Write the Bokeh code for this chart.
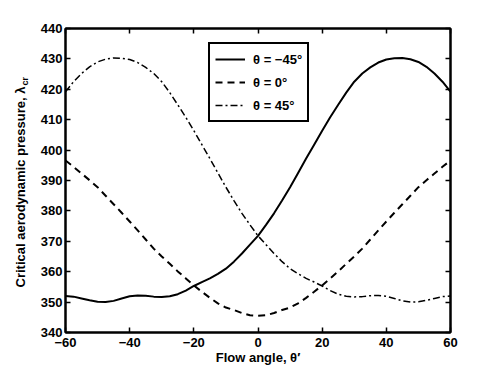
import math
from bokeh.plotting import figure
from bokeh.layouts import row
from bokeh.models import Legend, LegendItem, LinearAxis, FixedTicker
from bokeh.core.properties import value
from bokeh.embed import file_html
from bokeh.resources import INLINE

# ---- data ----
flow_angle = [-60, -57.5, -55, -52.5, -50, -47.5, -45, -42.5, -40, -37.5, -35, -32.5, -30,
              -27.5, -25, -22.5, -20, -17.5, -15, -12.5, -10, -7.5, -5, -2.5, 0,
              2.5, 5, 7.5, 10, 12.5, 15, 17.5, 20, 22.5, 25, 27.5, 30,
              32.5, 35, 37.5, 40, 42.5, 45, 47.5, 50, 52.5, 55, 57.5, 60]

theta_m45 = [352.0, 351.8, 351.2, 350.6, 350.1, 350.0, 350.4, 351.2, 351.9, 352.2, 352.1, 351.8, 351.7,
             351.9, 352.6, 353.8, 355.3, 356.6, 357.8, 359.3, 361.0, 363.3, 366.0, 368.9, 371.8,
             375.4, 379.2, 383.4, 387.8, 392.5, 397.2, 401.8, 406.4, 410.8, 414.9, 418.9, 422.5,
             425.2, 427.2, 428.8, 429.8, 430.2, 430.3, 429.9, 429.0, 427.4, 425.2, 422.5, 419.2]

theta_0 = [396.6, 394.5, 392.3, 390.1, 387.8, 385.0, 382.2, 379.4, 376.5, 373.6, 370.6, 367.6, 365.0,
           362.6, 360.1, 357.8, 355.5, 353.4, 351.4, 349.6, 348.2, 347.4, 346.4, 345.7, 345.5,
           345.7, 346.4, 347.4, 348.2, 349.6, 351.4, 353.4, 355.5, 357.8, 360.1, 362.6, 365.0,
           367.6, 370.6, 373.6, 376.5, 379.4, 382.2, 385.0, 387.8, 390.1, 392.3, 394.5, 396.6]

theta_p45 = [419.2, 422.5, 425.2, 427.4, 429.0, 429.9, 430.3, 430.2, 429.8, 428.8, 427.2, 425.2, 422.5,
             418.9, 414.9, 410.8, 406.4, 401.8, 397.2, 392.5, 387.8, 383.4, 379.2, 375.4, 371.8,
             368.9, 366.0, 363.3, 361.0, 359.3, 357.8, 356.6, 355.3, 353.8, 352.6, 351.9, 351.7,
             351.8, 352.1, 352.2, 351.9, 351.2, 350.4, 350.0, 350.1, 350.6, 351.2, 351.8, 352.0]

series_labels = ["θ = −45°", "θ = 0°", "θ = 45°"]

x_ticks = [-60, -40, -20, 0, 20, 40, 60]
x_tick_labels = ["−60", "−40", "−20", "0", "20", "40", "60"]
y_ticks = [340, 350, 360, 370, 380, 390, 400, 410, 420, 430, 440]

x_label = "Flow angle, θ′"
y_label_main = "Critical aerodynamic pressure, λ"
y_label_sub = "cr"

FONT = "Liberation Sans"
TOTAL_H = 375
LABEL_W = 33
B_TOP, B_BOTTOM = 28, 43
FRAME_H = TOTAL_H - B_TOP - B_BOTTOM

# ---- main plot ----
p = figure(width=498 - LABEL_W, height=TOTAL_H, x_range=(-60, 60), y_range=(340, 440),
           output_backend="svg", toolbar_location=None,
           min_border_left=65 - LABEL_W, min_border_right=48,
           min_border_top=B_TOP, min_border_bottom=B_BOTTOM,
           background_fill_color="white", border_fill_color="white")
p.xgrid.visible = False
p.ygrid.visible = False
p.outline_line_color = "black"
p.outline_line_width = 2

bottom_axis = p.below[0]
left_axis = p.left[0]
top_axis = LinearAxis()
right_axis = LinearAxis()
p.add_layout(top_axis, "above")
p.add_layout(right_axis, "right")

for ax in [bottom_axis, top_axis]:
    ax.ticker = FixedTicker(ticks=x_ticks)
for ax in [left_axis, right_axis]:
    ax.ticker = FixedTicker(ticks=y_ticks)

for ax in [bottom_axis, left_axis, top_axis, right_axis]:
    ax.axis_line_color = "black"
    ax.axis_line_width = 2
    ax.major_tick_in = 5
    ax.major_tick_out = 0
    ax.major_tick_line_width = 1.5
    ax.major_tick_line_color = "black"
    ax.minor_tick_line_color = None
    ax.major_label_text_font = FONT
    ax.major_label_text_font_style = "bold"
    ax.major_label_text_font_size = "13px"
    ax.major_label_text_color = "black"

for ax in [top_axis, right_axis]:
    ax.major_label_text_color = None
    ax.major_label_standoff = 0

bottom_axis.major_label_overrides = {t: l for t, l in zip(x_ticks, x_tick_labels)}
bottom_axis.major_label_standoff = 5
left_axis.major_label_standoff = 3

bottom_axis.axis_label = x_label
bottom_axis.axis_label_text_font = FONT
bottom_axis.axis_label_text_font_style = "bold"
bottom_axis.axis_label_text_font_size = "13px"
bottom_axis.axis_label_standoff = 0
bottom_axis.axis_label_text_color = "black"

r1 = p.line(flow_angle, theta_m45, line_color="black", line_width=2)
r2 = p.line(flow_angle, theta_0, line_color="black", line_width=2, line_dash="7 5")
r3 = p.line(flow_angle, theta_p45, line_color="black", line_width=1.5, line_dash="7 3 2 3")

legend = Legend(items=[LegendItem(label=series_labels[0], renderers=[r1]),
                       LegendItem(label=series_labels[1], renderers=[r2]),
                       LegendItem(label=series_labels[2], renderers=[r3])],
                location=(143, 210), padding=5, spacing=3, margin=0,
                glyph_width=30, glyph_height=20, label_height=20, label_standoff=8,
                border_line_color="black", border_line_width=2, border_line_alpha=1,
                background_fill_color="white", background_fill_alpha=1,
                label_text_font=FONT, label_text_font_style="bold",
                label_text_font_size="13px", label_text_color="black")
p.add_layout(legend)

# ---- y-axis title panel (keeps the subscript as real text) ----
# its frame is aligned with the main frame, so y is in pixels above the frame bottom
lp = figure(width=LABEL_W, height=TOTAL_H, x_range=(0, LABEL_W), y_range=(0, FRAME_H),
            output_backend="svg", toolbar_location=None, title=None,
            x_axis_location=None, y_axis_location=None,
            min_border_left=0, min_border_right=0,
            min_border_top=B_TOP, min_border_bottom=B_BOTTOM,
            background_fill_color="white", border_fill_color="white", outline_line_color=None)
lp.grid.visible = False
lp.text(x=[20], y=[45], text=[y_label_main], angle=math.pi / 2,
        text_align="left", text_baseline="middle", text_font=value(FONT),
        text_font_style="bold", text_font_size="13px", text_color="black")
lp.text(x=[24], y=[247], text=[y_label_sub], angle=math.pi / 2,
        text_align="left", text_baseline="middle", text_font=value(FONT),
        text_font_style="bold", text_font_size="9px", text_color="black")

layout = row(lp, p, spacing=0)
open("out.html", "w").write(file_html(layout, INLINE))
